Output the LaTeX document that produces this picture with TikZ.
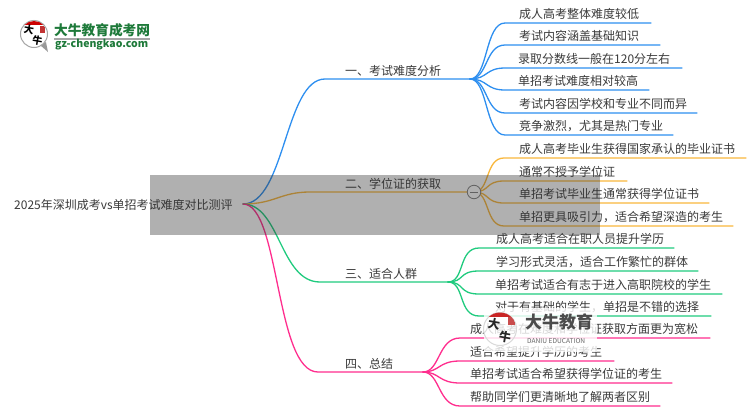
\documentclass[tikz,border=0pt]{standalone}
\usepackage{fontspec}
\setmainfont{Noto Sans CJK SC}
\definecolor{cb}{HTML}{2E8FF0}
\definecolor{co}{HTML}{F9B73C}
\definecolor{cg}{HTML}{1FCB7E}
\definecolor{cp}{HTML}{FF2E8E}
\definecolor{ct}{HTML}{3A3A3A}
\definecolor{logog}{HTML}{1E7A3A}
\definecolor{veil}{HTML}{303030}
\tikzset{
 x=1pt,y=-1pt,
 leaf/.style={anchor=south west,inner sep=0pt,font=\fontsize{12}{12}\selectfont,text=ct},
 mainlab/.style={anchor=base west,inner sep=0pt,font=\fontsize{12}{12}\selectfont,text=ct},
 link/.style={line width=1.3pt,line cap=round},
}
\begin{document}
\begin{tikzpicture}
\useasboundingbox (0,0) rectangle (750,410);
\fill[white] (0,0) rectangle (750,410);
% hubs
\coordinate (root) at (243,204);
\coordinate (hb) at (470,79);
\coordinate (ho) at (474,192);
\coordinate (hg) at (448,282);
\coordinate (hp) at (423,372);
% title
\node[anchor=west,inner sep=0pt,font=\fontsize{12}{14}\selectfont,text=ct] (title) at (14,205) {2025年深圳成考vs单招考试难度对比测评};
% main branches
\coordinate (mb) at (325,79); \coordinate (mo) at (310,192); \coordinate (mg) at (320,282); \coordinate (mp) at (318,372);
\draw[link,cb] (root) .. controls (285,204) and (285,79) .. (mb) -- (hb);
\draw[link,co] (root) .. controls (275,204) and (280,192) .. (mo) -- (ho);
\draw[link,cg] (root) .. controls (280,204) and (280,282) .. (mg) -- (hg);
\draw[link,cp] (root) .. controls (280,204) and (275,372) .. (mp) -- (hp);
\node[mainlab] (l1) at (345,75) {一、考试难度分析};
\node[mainlab] (l2) at (345,188) {二、学位证的获取};
\node[mainlab] (l3) at (345,278) {三、适合人群};
\node[mainlab] (l4) at (345,368) {四、总结};
% blue leaves
\foreach \y/\e/\t/\tx in {23/651/成人高考整体难度较低/519,45/660/考试内容涵盖基础知识/519,68/682/录取分数线一般在120分左右/518,90/649/单招考试难度相对较高/518,113/697/考试内容因学校和专业不同而异/519,135/673/竞争激烈，尤其是热门专业/519}{
 \coordinate (e) at (\e,\y);
 \draw[link,cb] (hb) .. controls (488,79) and (485,\y) .. (505,\y) -- (e);
 \node[leaf] at (\tx,\y-3) {\t};
}
% orange leaves
\foreach \y/\e/\t in {158/746/成人高考毕业生获得国家承认的毕业证书,181/627/通常不授予学位证,203/709/单招考试毕业生通常获得学位证书,226/733/单招更具吸引力，适合希望深造的考生}{
 \coordinate (e) at (\e,\y);
 \draw[link,co] (ho) .. controls (490,192) and (485,\y) .. (504,\y) -- (e);
 \node[leaf] at (519,\y-3) {\t};
}
\node[draw=gray,fill=white,circle,line width=.8pt,minimum size=13.5pt,inner sep=0pt] (toggle) at (ho) {};
\draw[gray,line width=.8pt] (470,192) -- (478,192);
% green leaves
\foreach \y/\e/\t/\tx in {248/674/成人高考适合在职人员提升学历/496,271/698/学习形式灵活，适合工作繁忙的群体/496,294/722/单招考试适合有志于进入高职院校的学生/495,316/711/对于有基础的学生，单招是不错的选择/495}{
 \coordinate (e) at (\e,\y);
 \draw[link,cg] (hg) .. controls (465,282) and (458,\y) .. (479,\y) -- (e);
 \node[leaf] at (\tx,\y-3) {\t};
}
% pink leaves
\foreach \y/\e/\t in {338/710/成人高考在难度和学位证获取方面更为宽松,361/614/适合希望提升学历的考生,383/672/单招考试适合希望获得学位证的考生,406/660/帮助同学们更清晰地了解两者区别}{
 \coordinate (e) at (\e,\y);
 \draw[link,cp] (hp) .. controls (440,372) and (438,\y) .. (460,\y) -- (e);
 \node[leaf] at (470,\y-3) {\t};
}
% grey veil
\fill[veil,opacity=.38] (150,175) rectangle (600,235);
% top-left logo
\fill[black!40] (40,45) -- (48,52) -- (46,42) -- cycle;
\fill[white,draw=black!35,line width=1pt] (34,34) circle (13.5);
\begin{scope}
\clip (34,34) circle (13);
\fill[red!80!black] (20,20) rectangle (48,24.5);
\fill[red!70!black!80] (39.5,26) rectangle (45,33);
\end{scope}
\node[inner sep=0pt,rotate=-10,font=\bfseries\fontsize{10}{10}\selectfont,text=black] (lg1) at (29,30) {大};
\node[inner sep=0pt,rotate=-10,font=\bfseries\fontsize{10}{10}\selectfont,text=black] (lg2) at (37.5,41) {牛};
\node[anchor=west,inner sep=0pt,font=\bfseries\fontsize{13.7}{14}\selectfont,text=logog] (lt1) at (54,30) {大牛教育成考网};
\fill[black!35] (54,38) rectangle (150,40);
\node[anchor=west,inner sep=0pt,font=\bfseries\fontsize{10.5}{11}\selectfont,text=logog] (lt2) at (55,45) {gz-chengkao.com};
% bottom watermark
\fill[white,opacity=.8] (484,308) rectangle (597,352);
\draw[black!15,line width=1pt] (500,329) circle (16.5);
\begin{scope}
\clip (500,329) circle (16.5);
\fill[red!75!black!85] (480,310) rectangle (520,317);
\fill[red!70!black!70] (508,317) rectangle (515,325);
\end{scope}
\node[inner sep=0pt,rotate=-10,font=\bfseries\fontsize{12}{12}\selectfont,text=black!85] (w1) at (494,324) {大};
\node[inner sep=0pt,rotate=-10,font=\bfseries\fontsize{12}{12}\selectfont,text=black!85] (w2) at (505,337) {牛};
\node[anchor=west,inner sep=0pt,font=\bfseries\fontsize{17}{18}\selectfont,text=black!70] (w3) at (525,322) {大牛教育};
\node[anchor=west,inner sep=0pt,font=\fontsize{6.6}{7}\selectfont,text=black!60] (w4) at (527,341) {DANIU EDUCATION};
\end{tikzpicture}
\end{document}
